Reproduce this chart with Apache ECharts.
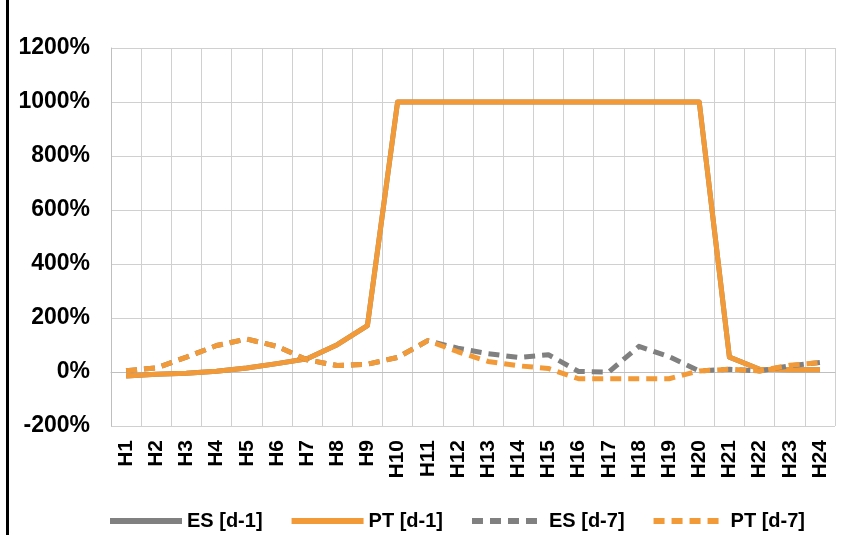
<!DOCTYPE html>
<html><head><meta charset="utf-8">
<script src="https://cdn.jsdelivr.net/npm/echarts@6/dist/echarts.min.js"></script>
<style>html,body{margin:0;padding:0;background:#fff}#c{width:846px;height:535px}</style>
</head><body><div id="c"></div>
<script>
const categories = ['H1','H2','H3','H4','H5','H6','H7','H8','H9','H10','H11','H12','H13','H14','H15','H16','H17','H18','H19','H20','H21','H22','H23','H24'];
const esD1 = [-15,-8,-5,3,15,31,49,101,172,1000,1000,1000,1000,1000,1000,1000,1000,1000,1000,1000,55,10,8,8];
const ptD1 = [-15,-8,-5,3,15,31,49,101,172,1000,1000,1000,1000,1000,1000,1000,1000,1000,1000,1000,55,10,8,8];
const esD7 = [5,15,55,98,122,95,45,24,29,54,116,88,68,54,64,2,0,95,57,4,10,4,23,35];
const ptD7 = [5,15,55,98,122,95,45,24,29,54,116,75,39,23,13,-25,-25,-25,-25,4,10,4,25,35];
const seriesNames = ['ES [d-1]','PT [d-1]','ES [d-7]','PT [d-7]'];
const yTicks = {min:-200, max:1200, interval:200};

const GREY = '#808080', ORANGE = '#F29A38';
const font = 'Arial, "Liberation Sans", sans-serif';
const chart = echarts.init(document.getElementById('c'));
function mk(name, data, color, dashed){
  return {name, type:'line', data, symbol:'none', smooth:false,
    lineStyle:{color, width:5, type: dashed ? [11,7] : 'solid', cap: 'butt', join:'round'},
    itemStyle:{color}, emphasis:{disabled:true}};
}
chart.setOption({
  animation:false,
  grid:{left:111, right:11, top:48, bottom:109},
  graphic:[{type:'rect', shape:{x:6, y:0, width:3, height:535}, style:{fill:'#000'}}],
  legend:{top:506, left:102, itemWidth:72, itemHeight:20, itemGap:26,
    itemStyle:{opacity:0}, lineStyle:{width:6},
    textStyle:{fontFamily:font, fontWeight:'bold', fontSize:20, color:'#000'},
    data:seriesNames},
  xAxis:{type:'category', data:categories, boundaryGap:true,
    axisLine:{lineStyle:{color:'#BFBFBF', width:1}}, axisTick:{show:false},
    splitLine:{show:true, interval:0, lineStyle:{color:'#D0D0D0', width:1}},
    axisLabel:{interval:0, rotate:90, margin:14, fontFamily:font, fontWeight:'bold', fontSize:21, color:'#000'}},
  yAxis:{type:'value', min:yTicks.min, max:yTicks.max, interval:yTicks.interval,
    axisLine:{show:true, lineStyle:{color:'#BFBFBF'}}, axisTick:{show:false},
    splitLine:{lineStyle:{color:'#D0D0D0', width:1}},
    axisLabel:{formatter:v => v + '%', margin:21, fontFamily:font, fontWeight:'bold', fontSize:23, color:'#000'}},
  series:[
    mk(seriesNames[0], esD1, GREY, false),
    mk(seriesNames[1], ptD1, ORANGE, false),
    mk(seriesNames[2], esD7, GREY, true),
    mk(seriesNames[3], ptD7, ORANGE, true)
  ]
});
</script></body></html>
